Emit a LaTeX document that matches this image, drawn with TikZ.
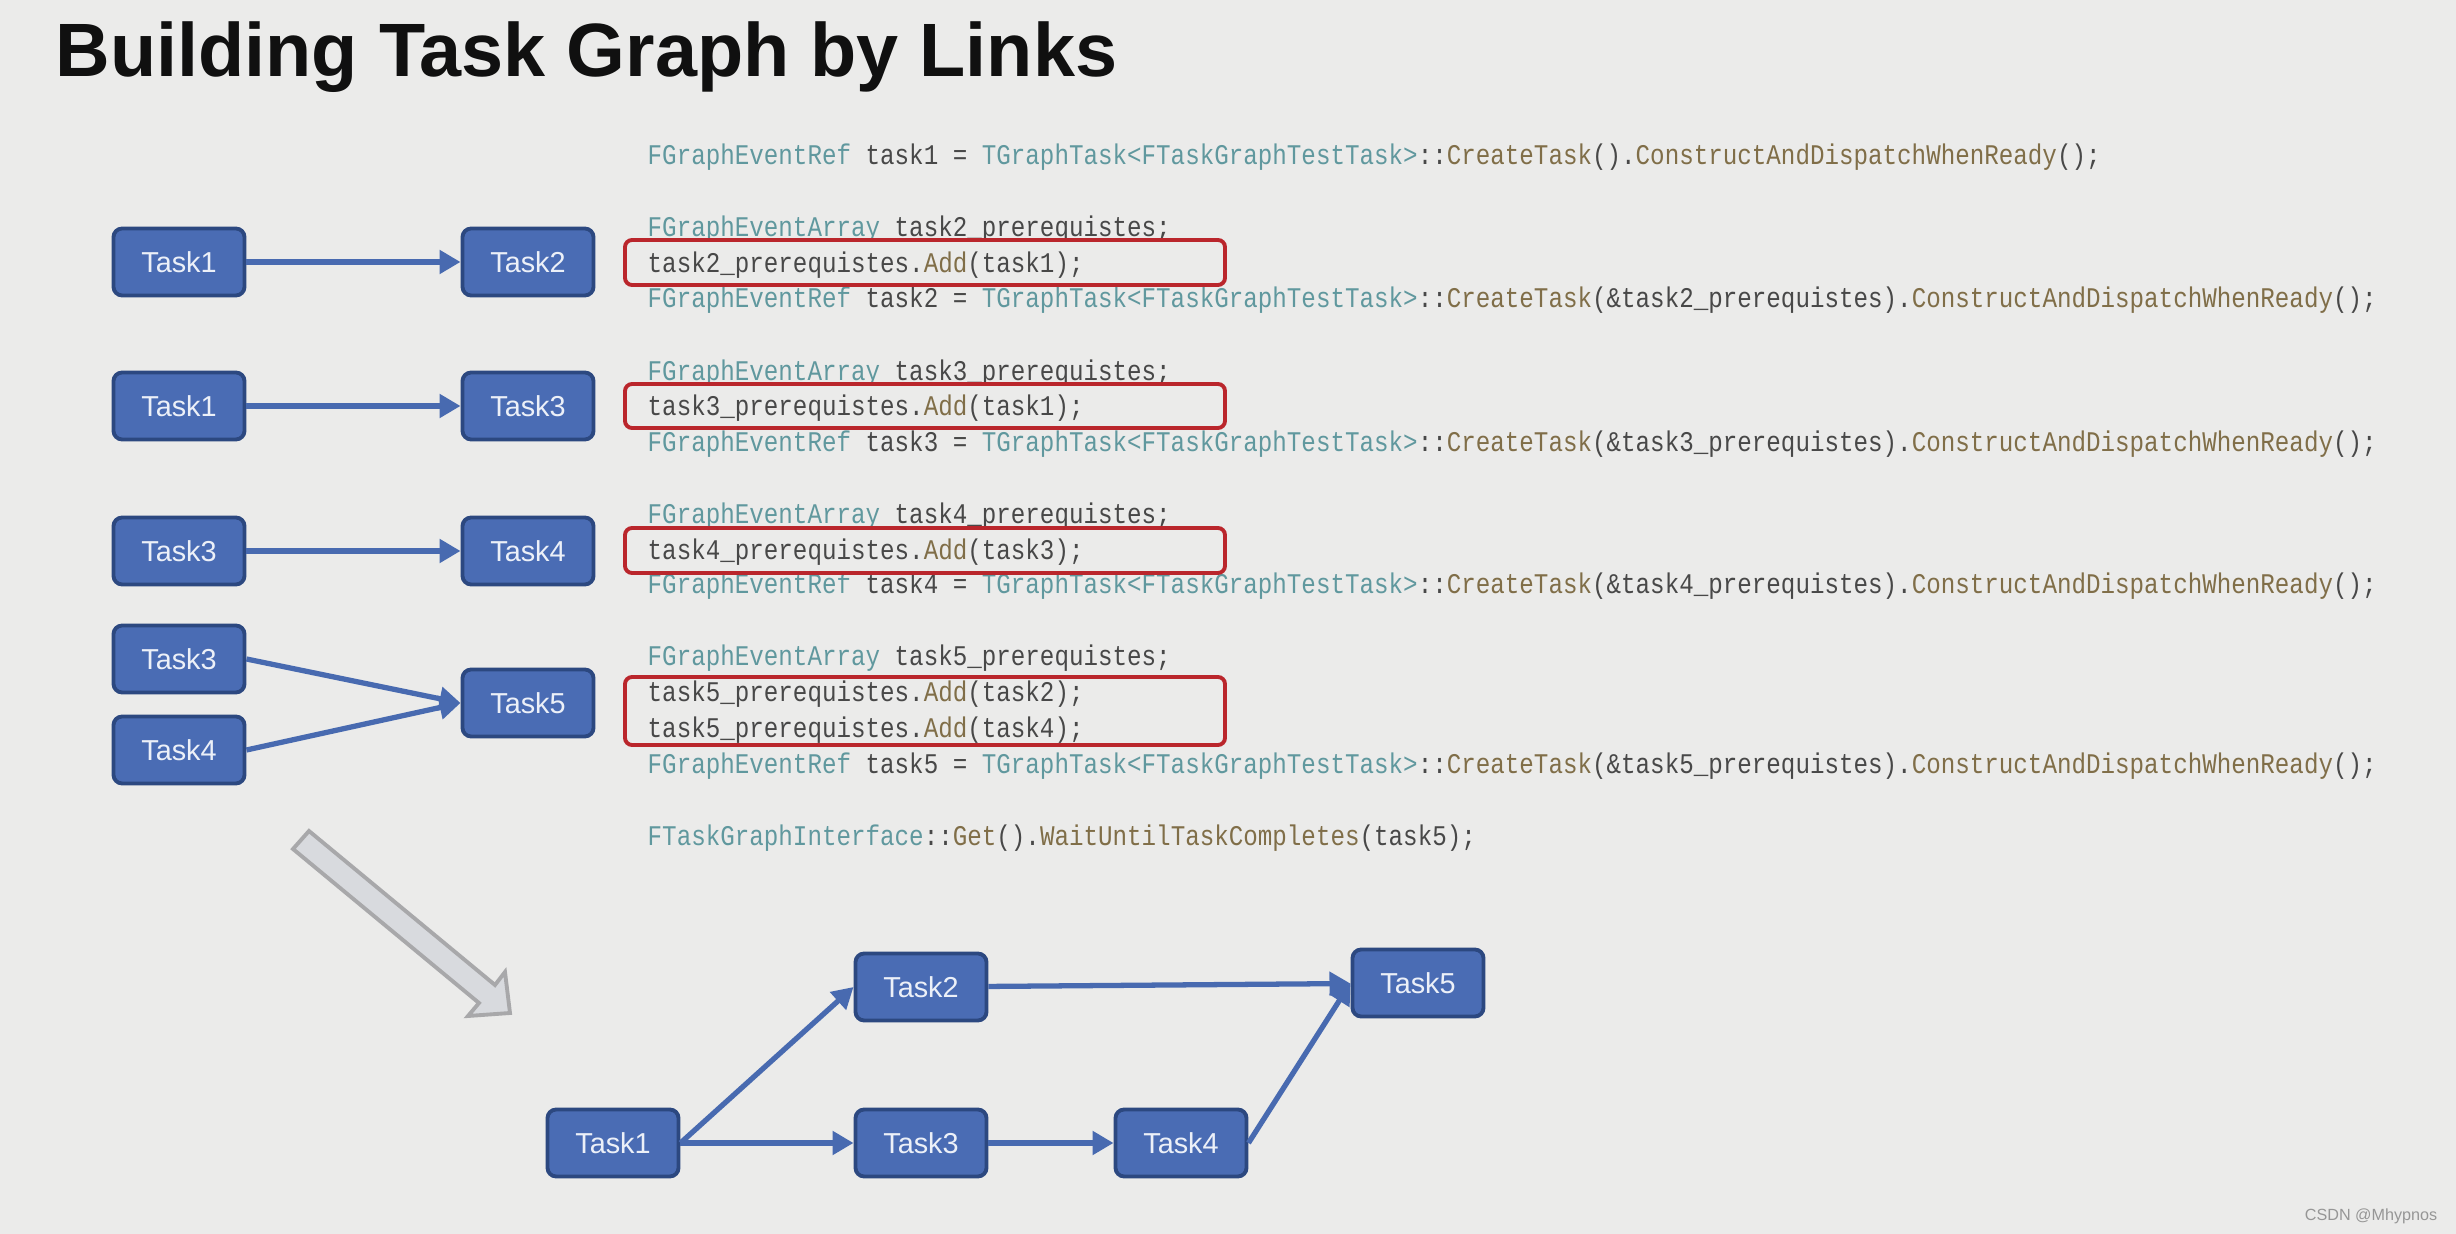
\documentclass[tikz,border=0pt]{standalone}
\usepackage{fontspec}
\setmainfont{Liberation Sans}
\newfontfamily\codefont[FakeStretch=0.85]{Liberation Mono}
\usepackage{tikz}
\usetikzlibrary{arrows.meta}

\definecolor{bgcol}{RGB}{235,235,234}
\definecolor{taskfill}{RGB}{74,108,180}
\definecolor{taskline}{RGB}{44,72,128}
\definecolor{tasktext}{RGB}{236,240,248}
\definecolor{linkcol}{RGB}{72,106,176}
\definecolor{codetype}{RGB}{96,152,158}
\definecolor{codefunc}{RGB}{128,110,72}
\definecolor{codeid}{RGB}{72,72,72}
\definecolor{hilite}{RGB}{186,38,44}

\newcommand{\ctype}[1]{\textcolor{codetype}{#1}}
\newcommand{\cfunc}[1]{\textcolor{codefunc}{#1}}

\begin{document}
\begin{tikzpicture}[x=0.01cm,y=-0.01cm,
    taskbox/.style={rectangle, rounded corners=2.5pt, draw=taskline, line width=1.1pt,
        fill=taskfill, text=tasktext, minimum width=1.31cm, minimum height=0.67cm,
        inner sep=0pt, font=\fontsize{8.2}{9}\selectfont},
    link/.style={-{Triangle[length=0.21cm,width=0.23cm]}, line width=1.5pt, draw=linkcol},
    code/.style={anchor=base west, inner sep=0pt, text=codeid,
        font=\codefont\fontsize{8.1}{9}\selectfont},
    redbox/.style={draw=hilite, line width=1.1pt, rounded corners=2pt}]

    % Page and its margins
    \fill[bgcol] (0,0) rectangle (2456,1234);
    \useasboundingbox (0,0) rectangle (2456,1234);

    \def\cx{647}  % left edge of the code

    % Title
    \node[anchor=base west, inner sep=0pt, text={rgb,255:red,16;green,16;blue,16},
        font=\bfseries\fontsize{21.5}{25}\selectfont] (title) at (55,77) {Building Task Graph by Links};

    % Small graphs, one per prerequisite
    \node[taskbox] (a1) at (179,262) {Task1};
    \node[taskbox] (a2) at (528,262) {Task2};
    \node[taskbox] (b1) at (179,406) {Task1};
    \node[taskbox] (b3) at (528,406) {Task3};
    \node[taskbox] (c3) at (179,551) {Task3};
    \node[taskbox] (c4) at (528,551) {Task4};
    \node[taskbox] (d3) at (179,659) {Task3};
    \node[taskbox] (d4) at (179,750) {Task4};
    \node[taskbox] (d5) at (528,703) {Task5};

    \draw[link] (a1) -- (a2);
    \draw[link] (b1) -- (b3);
    \draw[link] (c3) -- (c4);
    \draw[link] (d3.east) -- (d5.west);
    \draw[link] (d4.east) -- (d5.west);

    % Code
    \node[code] (l1) at (\cx,165) {\ctype{FGraphEventRef} task1 = \ctype{TGraphTask<FTaskGraphTestTask>}::\cfunc{CreateTask}().\cfunc{ConstructAndDispatchWhenReady}();};

    \node[code] (l2) at (\cx,237) {\ctype{FGraphEventArray} task2\_prerequistes;};
    \node[code] (l3) at (\cx,273) {task2\_prerequistes.\cfunc{Add}(task1);};
    \node[code] (l4) at (\cx,308) {\ctype{FGraphEventRef} task2 = \ctype{TGraphTask<FTaskGraphTestTask>}::\cfunc{CreateTask}(\&task2\_prerequistes).\cfunc{ConstructAndDispatchWhenReady}();};

    \node[code] (l5) at (\cx,381) {\ctype{FGraphEventArray} task3\_prerequistes;};
    \node[code] (l6) at (\cx,416) {task3\_prerequistes.\cfunc{Add}(task1);};
    \node[code] (l7) at (\cx,452) {\ctype{FGraphEventRef} task3 = \ctype{TGraphTask<FTaskGraphTestTask>}::\cfunc{CreateTask}(\&task3\_prerequistes).\cfunc{ConstructAndDispatchWhenReady}();};

    \node[code] (l8) at (\cx,524) {\ctype{FGraphEventArray} task4\_prerequistes;};
    \node[code] (l9) at (\cx,560) {task4\_prerequistes.\cfunc{Add}(task3);};
    \node[code] (l10) at (\cx,594) {\ctype{FGraphEventRef} task4 = \ctype{TGraphTask<FTaskGraphTestTask>}::\cfunc{CreateTask}(\&task4\_prerequistes).\cfunc{ConstructAndDispatchWhenReady}();};

    \node[code] (l11) at (\cx,666) {\ctype{FGraphEventArray} task5\_prerequistes;};
    \node[code] (l12) at (\cx,702) {task5\_prerequistes.\cfunc{Add}(task2);};
    \node[code] (l13) at (\cx,738) {task5\_prerequistes.\cfunc{Add}(task4);};
    \node[code] (l14) at (\cx,774) {\ctype{FGraphEventRef} task5 = \ctype{TGraphTask<FTaskGraphTestTask>}::\cfunc{CreateTask}(\&task5\_prerequistes).\cfunc{ConstructAndDispatchWhenReady}();};

    \node[code] (l15) at (\cx,846) {\ctype{FTaskGraphInterface}::\cfunc{Get}().\cfunc{WaitUntilTaskCompletes}(task5);};

    % Highlight the Add lines
    \draw[redbox] (625,240) rectangle (1225,285);
    \draw[redbox] (625,384) rectangle (1225,428);
    \draw[redbox] (625,528) rectangle (1225,573);
    \draw[redbox] (625,677) rectangle (1225,745);

    % Big grey arrow
    \draw[line width=1.1pt, draw={rgb,255:red,168;green,168;blue,170}, fill={rgb,255:red,216;green,218;blue,222}]
        (293,849) -- (309,831) -- (495,985) -- (505,972) -- (510,1013) -- (468,1016) -- (479,1003) -- cycle;

    % Resulting task graph
    \node[taskbox] (g1) at (613,1143) {Task1};
    \node[taskbox] (g2) at (921,987) {Task2};
    \node[taskbox] (g3) at (921,1143) {Task3};
    \node[taskbox] (g4) at (1181,1143) {Task4};
    \node[taskbox] (g5) at (1418,983) {Task5};

    \draw[link] (g1.east) -- (g2.west);
    \draw[link] (g1) -- (g3);
    \draw[link] (g3) -- (g4);
    \draw[link] (g2) -- (g5);
    \draw[link] (g4.east) -- (g5.west);

    % Credit
    \node[anchor=base east, inner sep=0pt, text={rgb,255:red,150;green,150;blue,150},
        font=\fontsize{4.6}{5}\selectfont] (credit) at (2438,1221) {CSDN @Mhypnos};
\end{tikzpicture}
\end{document}
